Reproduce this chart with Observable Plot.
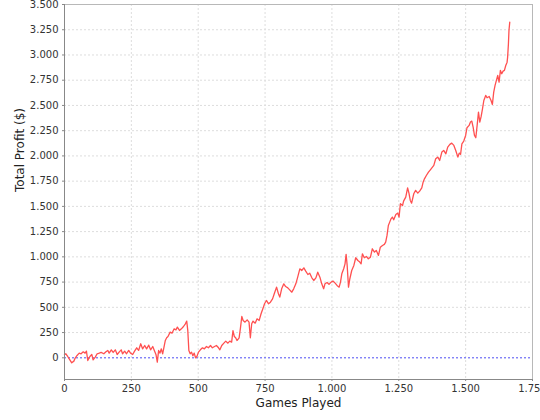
<!DOCTYPE html>
<html>
<head>
<meta charset="utf-8">
<script src="https://cdn.jsdelivr.net/npm/d3@7"></script>
<script src="https://cdn.jsdelivr.net/npm/@observablehq/plot@0.6"></script>
<style>
  html, body { margin: 0; padding: 0; background: #fff; }
  #chart { width: 540px; height: 420px; }
</style>
</head>
<body>
<div id="chart"></div>
<script>
const games = [0,5,12,20,27,35,40,47,55,62,70,77,82,87,95,102,107,115,122,130,137,147,155,162,167,175,182,190,197,205,212,217,225,232,240,247,255,262,270,277,285,292,300,307,315,322,330,337,342,347,352,357,362,367,372,377,382,387,395,402,410,417,422,430,437,445,452,457,461,465,470,475,480,485,490,495,501,508,516,523,531,538,546,553,561,568,576,581,588,596,603,611,618,625,630,635,640,645,653,658,663,668,675,683,690,695,700,705,713,720,728,735,743,748,755,763,770,778,785,793,800,805,812,820,827,835,842,850,857,865,872,880,887,895,902,910,917,925,932,940,947,955,962,969,974,982,989,997,1004,1012,1019,1027,1032,1037,1044,1049,1053,1057,1062,1067,1074,1082,1089,1097,1104,1109,1114,1121,1129,1136,1144,1151,1159,1166,1174,1181,1189,1196,1201,1206,1211,1216,1221,1226,1231,1239,1246,1251,1256,1264,1268,1276,1283,1288,1293,1298,1306,1313,1321,1328,1336,1341,1346,1353,1361,1368,1381,1388,1396,1403,1411,1418,1426,1433,1441,1448,1456,1463,1471,1476,1481,1486,1493,1500,1505,1513,1518,1523,1528,1533,1538,1543,1548,1553,1558,1563,1568,1575,1580,1588,1595,1600,1605,1610,1615,1620,1625,1630,1635,1640,1645,1650,1655,1657,1660,1662,1665];
const profit = [30,40,13,-20,-50,-33,-3,23,46,40,59,46,66,-27,13,33,-20,7,40,46,53,40,59,73,46,79,53,79,33,59,79,40,66,40,73,46,33,66,99,73,139,89,122,89,125,79,112,66,33,-43,73,46,89,40,106,172,198,211,254,244,287,277,304,271,287,310,337,363,271,73,40,56,20,46,0,13,56,79,99,89,112,99,122,99,112,122,99,79,122,145,165,145,165,155,270,211,198,171,198,297,409,370,353,376,353,198,337,363,343,386,370,436,495,535,568,535,551,584,640,700,634,601,683,733,706,693,673,650,683,733,799,881,865,891,858,825,838,792,766,792,848,799,733,684,733,746,727,750,760,740,717,700,750,832,882,931,1024,915,700,783,865,915,991,964,948,931,1030,991,1004,981,997,1080,1047,1063,1014,1096,1113,1123,1146,1212,1311,1344,1377,1394,1367,1420,1433,1394,1526,1509,1552,1592,1684,1631,1559,1532,1625,1658,1631,1651,1684,1740,1773,1806,1839,1862,1906,1972,1988,1955,2038,2054,2021,2087,2114,2127,2104,2054,1988,2028,2015,2120,2147,2203,2279,2302,2335,2345,2285,2203,2180,2302,2434,2335,2391,2467,2549,2599,2576,2589,2549,2510,2632,2698,2748,2797,2731,2847,2814,2840,2847,2896,2929,2979,3111,3243,3325];
const xTicks = [0,250,500,750,1000,1250,1500,1750];
const yTicks = [0,250,500,750,1000,1250,1500,1750,2000,2250,2500,2750,3000,3250,3500];
const xTitle = "Games Played";
const yTitle = "Total Profit ($)";

const data = games.map((g, i) => ({games: g, profit: profit[i]}));
const fmt = d3.formatLocale({decimal: ",", thousands: ".", grouping: [3], currency: ["$", ""]}).format(",d");

const chart = Plot.plot({
  width: 540,
  height: 420,
  marginLeft: 64,
  marginRight: 8,
  marginTop: 4,
  marginBottom: 41,
  style: {fontFamily: "DejaVu Sans, sans-serif", fontSize: "10px", color: "#333", background: "#fff"},
  x: {domain: [0, 1750]},
  y: {domain: [-215, 3500]},
  marks: [
    Plot.gridX(xTicks, {stroke: "#dddddd", strokeOpacity: 1, strokeDasharray: "2,2"}),
    Plot.gridY(yTicks, {stroke: "#dddddd", strokeOpacity: 1, strokeDasharray: "2,2"}),
    Plot.frame({stroke: "#b8b8b8"}),
    Plot.ruleY([0], {stroke: "#5a5aff", strokeDasharray: "2,2", strokeWidth: 1}),
    Plot.line(data, {x: "games", y: "profit", stroke: "#ff5050", strokeWidth: 1.3}),
    Plot.axisX(xTicks, {tickFormat: fmt, tickSize: 2, tickPadding: 3, label: null, stroke: "#888"}),
    Plot.axisY(yTicks, {tickFormat: fmt, tickSize: 2, tickPadding: 4, label: null, stroke: "#888"}),
    Plot.ruleX([0], {stroke: "#888"}),
    Plot.ruleY([-215], {stroke: "#888"}),
    Plot.text([xTitle], {frameAnchor: "bottom", dy: 27, fontSize: 12, fill: "#222"}),
    Plot.text([yTitle], {frameAnchor: "left", dx: -44, rotate: -90, fontSize: 12, fill: "#222"})
  ]
});
document.getElementById("chart").appendChild(chart);
</script>
</body>
</html>
